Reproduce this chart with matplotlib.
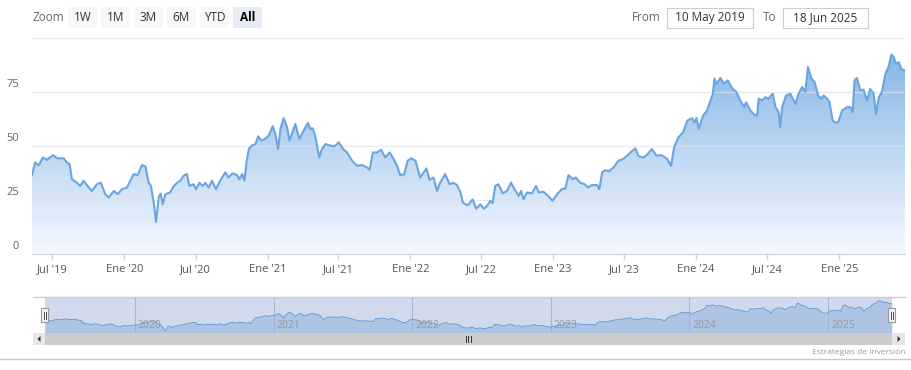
import numpy as np
import matplotlib
matplotlib.use("Agg")
import matplotlib.pyplot as plt
import matplotlib.dates as mdates
from matplotlib.patches import Rectangle, Polygon
from matplotlib.colors import LinearSegmentedColormap
from matplotlib import transforms

plt.rcParams['font.family'] = ['Open Sans', 'DejaVu Sans']

# ---- data ----
start_date = np.datetime64('2019-05-10')
end_date = np.datetime64('2025-06-18')

day_offsets = [0, 8, 17, 28, 38, 54, 64, 81, 89, 96,
               102, 115, 123, 132, 145, 153, 166, 176, 187, 196,
               209, 219, 230, 243, 251, 260, 270, 281, 290, 298,
               304, 311, 317, 324, 329, 334, 341, 353, 362, 371,
               379, 387, 396, 402, 413, 419, 428, 436, 443, 451,
               460, 470, 481, 494, 502, 513, 524, 530, 537, 543,
               548, 554, 562, 571, 578, 586, 596, 605, 615, 622,
               629, 635, 643, 652, 658, 664, 673, 683, 694, 705,
               711, 717, 724, 734, 741, 750, 762, 773, 784, 795,
               805, 818, 831, 843, 856, 863, 871, 882, 892, 903,
               914, 924, 933, 941, 951, 960, 969, 980, 992, 1001,
               1008, 1016, 1026, 1035, 1043, 1056, 1067, 1077, 1086, 1095,
               1101, 1112, 1116, 1126, 1135, 1146, 1154, 1163, 1171, 1177,
               1184, 1192, 1203, 1214, 1224, 1233, 1244, 1250, 1256, 1265,
               1278, 1288, 1295, 1307, 1319, 1330, 1342, 1354, 1363, 1371,
               1382, 1390, 1401, 1412, 1421, 1431, 1444, 1450, 1457, 1465,
               1475, 1482, 1486, 1499, 1510, 1521, 1531, 1542, 1550, 1563,
               1573, 1584, 1596, 1606, 1614, 1624, 1633, 1641, 1652, 1664,
               1675, 1687, 1693, 1698, 1704, 1715, 1725, 1733, 1740, 1744,
               1749, 1759, 1769, 1778, 1789, 1800, 1810, 1820, 1825, 1836,
               1846, 1853, 1857, 1866, 1874, 1882, 1893, 1900, 1908, 1912,
               1917, 1927, 1938, 1951, 1959, 1968, 1976, 1983, 1992, 2000,
               2009, 2017, 2023, 2032, 2038, 2046, 2055, 2061, 2070, 2083,
               2091, 2097, 2102, 2108, 2117, 2125, 2134, 2142, 2151, 2157,
               2164, 2172, 2181, 2189, 2196, 2202, 2208, 2215, 2222, 2231]

prices = [36.5, 42.4, 41.0, 44.7, 43.6, 45.8, 44.3, 44.3, 42.4, 41.6,
          34.6, 33.0, 31.5, 33.9, 30.8, 29.2, 32.3, 33.0, 27.7, 26.1,
          29.2, 27.7, 30.0, 30.8, 33.9, 37.0, 36.5, 41.2, 40.5, 33.0,
          31.5, 23.8, 14.8, 26.5, 28.0, 23.0, 27.7, 28.5, 31.3, 33.0,
          33.9, 36.2, 37.0, 31.5, 32.3, 30.0, 33.0, 31.5, 33.0, 30.8,
          33.9, 30.0, 33.9, 37.8, 35.4, 37.4, 36.5, 34.6, 37.0, 33.9,
          42.4, 48.6, 50.2, 50.9, 54.5, 52.5, 53.3, 54.8, 59.2, 55.6,
          48.6, 57.9, 62.9, 58.7, 52.5, 55.6, 60.2, 53.3, 57.1, 60.7,
          57.9, 58.2, 54.5, 44.7, 48.6, 50.9, 50.2, 49.9, 51.7, 48.6,
          47.0, 43.2, 40.8, 41.2, 40.1, 39.0, 47.0, 47.0, 48.3, 44.7,
          47.0, 44.0, 40.8, 36.5, 36.9, 43.2, 44.3, 43.2, 35.4, 37.8,
          39.6, 34.3, 35.4, 29.2, 33.0, 37.0, 32.3, 33.0, 31.9, 28.5,
          23.8, 22.6, 23.0, 25.3, 21.0, 23.0, 21.0, 22.2, 24.6, 23.5,
          31.5, 32.3, 28.1, 29.2, 33.0, 30.0, 26.9, 29.2, 25.3, 28.5,
          28.1, 31.5, 28.5, 28.8, 26.9, 24.6, 27.7, 30.0, 30.3, 36.5,
          34.6, 35.4, 33.0, 32.3, 30.8, 31.9, 31.9, 30.0, 37.8, 38.8,
          38.3, 39.5, 40.1, 43.2, 43.9, 45.5, 47.3, 48.9, 45.2, 44.7,
          46.2, 48.6, 45.5, 45.8, 45.2, 43.9, 40.8, 49.4, 54.0, 56.4,
          61.8, 62.9, 60.9, 63.0, 57.9, 64.1, 66.4, 70.6, 74.2, 81.2,
          78.8, 81.5, 78.8, 80.4, 76.8, 75.0, 71.1, 68.0, 70.3, 66.4,
          64.4, 64.1, 71.9, 71.1, 72.6, 71.9, 74.2, 68.0, 65.7, 58.7,
          68.0, 73.4, 74.2, 69.5, 74.2, 77.3, 75.0, 86.6, 81.2, 79.6,
          73.4, 71.9, 73.4, 71.9, 70.3, 61.8, 60.7, 61.3, 66.4, 68.0,
          68.0, 65.7, 80.4, 81.5, 75.7, 76.1, 71.1, 76.4, 74.2, 64.9,
          72.6, 75.0, 83.5, 86.6, 92.3, 91.3, 88.1, 88.8, 85.5, 85.0]

x_tick_dates = ['2019-07-01', '2020-01-01', '2020-07-01', '2021-01-01',
                '2021-07-01', '2022-01-01', '2022-07-01', '2023-01-01',
                '2023-07-01', '2024-01-01', '2024-07-01', '2025-01-01']
x_tick_labels = ["Jul '19", "Ene '20", "Jul '20", "Ene '21", "Jul '21", "Ene '22",
                 "Jul '22", "Ene '23", "Jul '23", "Ene '24", "Jul '24", "Ene '25"]
y_ticks = [0, 25, 50, 75, 100]
y_tick_labels = ['0', '25', '50', '75', '']
nav_years = ['2020-01-01', '2021-01-01', '2022-01-01', '2023-01-01', '2024-01-01', '2025-01-01']
nav_year_labels = ['2020', '2021', '2022', '2023', '2024', '2025']
range_buttons = ['1W', '1M', '3M', '6M', 'YTD', 'All']
from_text = '10 May 2019'
to_text = '18 Jun 2025'

dates = start_date + np.array(day_offsets).astype('timedelta64[D]')
prices = np.array(prices)

W, H = 912, 370
fig = plt.figure(figsize=(W / 100, H / 100), dpi=100)


def box(x0, y0, x1, y1):
    return [x0 / W, 1 - y1 / H, (x1 - x0) / W, (y1 - y0) / H]


# ---- main chart ----
ax = fig.add_axes(box(32, 38, 905, 254))
ax.set_xlim(start_date, end_date)
ax.set_ylim(0, 100)

x0n, x1n = mdates.date2num(start_date), mdates.date2num(end_date)
cmap = LinearSegmentedColormap.from_list('fill', ['#f6f9fe', '#7eb1e6'])
grad = np.linspace(0, 1, 256).reshape(-1, 1)
im = ax.imshow(grad, cmap=cmap, origin='lower', extent=[x0n, x1n, 0, 100],
               aspect='auto', zorder=1)
area = ax.fill_between(dates, prices, 0, facecolor='none', edgecolor='none')
im.set_clip_path(area.get_paths()[0], ax.transData)

for yv in y_ticks:
    ax.axhline(yv, color='#dfe3ea', lw=1, zorder=2, alpha=0.7)
ax.plot(dates, prices, color='#6aa5df', lw=1.5, zorder=3, solid_joinstyle='round')

ax.set_yticks([])
lab_tr = transforms.blended_transform_factory(ax.transAxes, ax.transData)
for yv, lab in zip(y_ticks, y_tick_labels):
    ax.text(-13 / 873, yv + 0.8, lab, transform=lab_tr, ha='right', va='bottom',
            fontsize=8, color='#666666')

ax.set_xticks([np.datetime64(d) for d in x_tick_dates])
ax.set_xticklabels(x_tick_labels)
ax.tick_params(axis='x', length=4, width=1, color='#ccd6eb', labelsize=8,
               labelcolor='#555555', pad=3)
for s in ['top', 'left', 'right']:
    ax.spines[s].set_visible(False)
ax.spines['bottom'].set_color('#ccd6eb')

# ---- navigator ----
nav = fig.add_axes(box(45, 297, 892, 333))
nav.set_xlim(start_date, end_date)
nav.set_ylim(10, 102)
nav.set_xticks([])
nav.set_yticks([])
for s in nav.spines.values():
    s.set_visible(False)
for d in nav_years:
    nav.axvline(np.datetime64(d), color='#c9ced8', lw=0.8, zorder=1)
nav.fill_between(dates, prices, 10, color='#a4c8ee', alpha=0.55, lw=0, zorder=2)
nav.plot(dates, prices, color='#6aa5df', lw=0.7, zorder=3)
nav.add_patch(Rectangle((0, 0), 1, 1, transform=nav.transAxes,
                        facecolor=(102 / 255, 133 / 255, 194 / 255), alpha=0.3,
                        lw=0, zorder=4))
yr_tr = transforms.offset_copy(
    transforms.blended_transform_factory(nav.transData, nav.transAxes),
    fig=fig, x=3, y=0, units='dots')
for d, lab in zip(nav_years, nav_year_labels):
    nav.text(np.datetime64(d), 0.2, lab, transform=yr_tr, ha='left', va='center',
             fontsize=7.5, color='#999999', zorder=5)

# ---- UI chrome (pixel coordinates) ----
ui = fig.add_axes([0, 0, 1, 1], zorder=5)
ui.set_xlim(0, W)
ui.set_ylim(H, 0)
ui.axis('off')
ui.patch.set_alpha(0)

ui.text(33, 17.5, 'Zoom', ha='left', va='center', fontsize=8.5, color='#666666')
for i, lab in enumerate(range_buttons):
    bx = 68 + i * 33
    sel = lab == 'All'
    ui.add_patch(Rectangle((bx, 7), 29, 21, facecolor='#e6ebf5' if sel else '#f7f7f7',
                           edgecolor='none'))
    ui.text(bx + 14.5, 17.5, lab, ha='center', va='center', fontsize=8.5,
            color='#000000' if sel else '#333333', fontweight='bold' if sel else 'normal')

ui.text(661, 17.5, 'From', ha='right', va='center', fontsize=8.5, color='#666666')
ui.add_patch(Rectangle((667, 7.5), 86, 20, facecolor='white', edgecolor='#cccccc', lw=0.8))
ui.text(710, 17.5, from_text, ha='center', va='center', fontsize=8.5, color='#333333')
ui.text(776, 17.5, 'To', ha='right', va='center', fontsize=8.5, color='#666666')
ui.add_patch(Rectangle((783, 7.5), 85, 20, facecolor='white', edgecolor='#cccccc', lw=0.8))
ui.text(825.5, 17.5, to_text, ha='center', va='center', fontsize=8.5, color='#333333')

# navigator outline and handles
ui.plot([33, 905], [297, 297], color='#cccccc', lw=1)
for hx in (45, 892):
    ui.add_patch(Rectangle((hx - 3.5, 308), 7, 14, facecolor='#f2f2f2',
                           edgecolor='#999999', lw=0.8))
    ui.plot([hx - 1, hx - 1], [311.5, 318.5], color='#333333', lw=0.6)
    ui.plot([hx + 1, hx + 1], [311.5, 318.5], color='#333333', lw=0.6)

# scrollbar
ui.add_patch(Rectangle((33, 333), 872, 12, facecolor='#f2f2f2', edgecolor='none'))
ui.add_patch(Rectangle((45, 333), 847, 12, facecolor='#cccccc', edgecolor='none'))
ui.add_patch(Rectangle((33, 333), 12, 12, facecolor='#e6e6e6', edgecolor='none'))
ui.add_patch(Rectangle((892, 333), 13, 12, facecolor='#e6e6e6', edgecolor='none'))
ui.add_patch(Polygon([[40.5, 336], [40.5, 342], [37.5, 339]], closed=True,
                     facecolor='#333333', edgecolor='none'))
ui.add_patch(Polygon([[897.5, 336], [897.5, 342], [900.5, 339]], closed=True,
                     facecolor='#333333', edgecolor='none'))
for gx in (466, 468.5, 471):
    ui.plot([gx, gx], [336, 342], color='#333333', lw=0.7)

ui.text(905, 352, 'Estrategias de Inversión', ha='right', va='center',
        fontsize=6, color='#999999')
ui.plot([0, W], [358.5, 358.5], color='#c3c9d6', lw=1)

fig.savefig('out.png', dpi=100)
